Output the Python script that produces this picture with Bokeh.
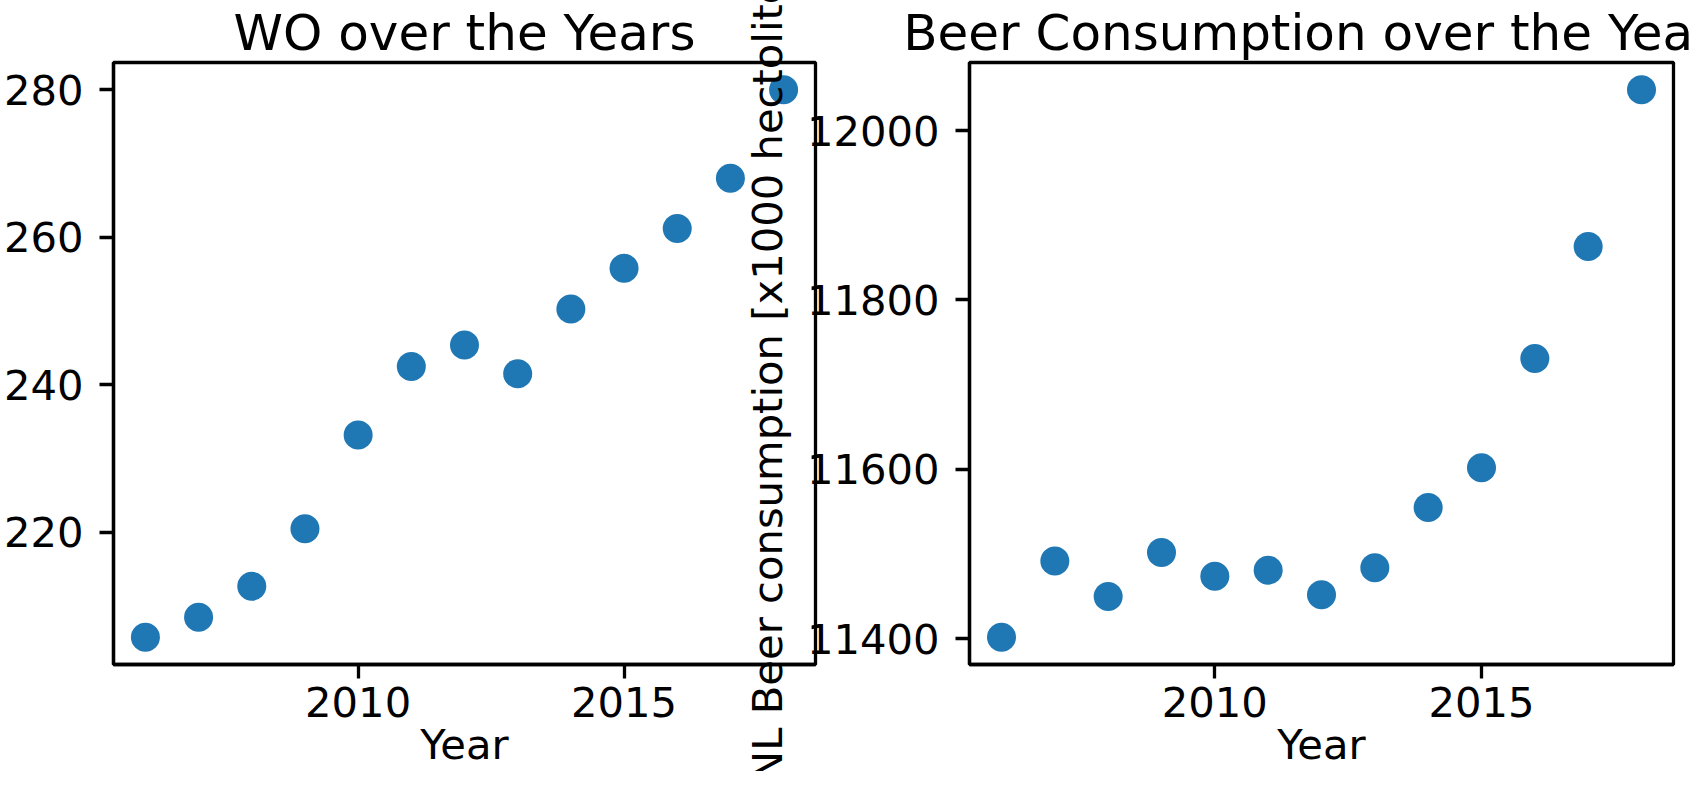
from typing import List, Optional, Tuple

from bokeh.embed import file_html
from bokeh.layouts import row
from bokeh.models import ColumnDataSource, Range1d, SingleIntervalTicker
from bokeh.plotting import figure
from bokeh.resources import INLINE

# data
YEARS = [2006, 2007, 2008, 2009, 2010, 2011, 2012, 2013, 2014, 2015, 2016, 2017, 2018]
WO = [205.8, 208.5, 212.7, 220.5, 233.2, 242.5, 245.4, 241.5, 250.3, 255.8, 261.2, 268.0, 280.0]
BEER = [11402, 11492, 11450, 11502, 11474, 11481, 11452, 11484, 11555, 11602, 11731, 11863, 12048]

WO_TITLE = "WO over the Years"
BEER_TITLE = "Beer Consumption over the Years"
X_LABEL = "Year"
BEER_LABEL = "NL Beer consumption [x1000 hectoliter]"

FONT = "DejaVu Sans"
BLUE = "#1f77b4"
TICK_FONT = "41.7px"
TITLE_FONT = "50px"
HEIGHT = 771


def padded(values: List[float], frac: float = 0.05) -> Range1d:
    """matplotlib style: 5% margin on each side of the data"""
    lo, hi = min(values), max(values)
    pad = (hi - lo) * frac
    return Range1d(lo - pad, hi + pad)


def make_panel(
    title: str,
    y_vals: List[float],
    y_step: int,
    y_label: Optional[str],
    width: int,
    left: int,
    right: int,
    margin: Optional[Tuple[int, int, int, int]] = None,
):
    p = figure(
        title=title,
        width=width,
        height=HEIGHT,
        x_range=padded(YEARS),
        y_range=padded(y_vals),
        output_backend="svg",
        toolbar_location=None,
        min_border_left=left,
        min_border_right=right,
        min_border_top=0,
        min_border_bottom=0,
    )
    if margin is not None:
        p.margin = margin
        p.border_fill_color = None  # let the left panel show through

    p.title.text_font = FONT
    p.title.text_font_size = TITLE_FONT
    p.title.text_font_style = "normal"
    p.title.text_color = "black"
    p.title.text_line_height = 0.8
    p.title.align = "center"
    p.title.standoff = 2

    p.grid.visible = False
    p.outline_line_color = "black"
    p.outline_line_width = 3.3
    p.outline_line_alpha = 1.0

    p.xaxis.ticker = SingleIntervalTicker(interval=5, num_minor_ticks=0)
    p.yaxis.ticker = SingleIntervalTicker(interval=y_step, num_minor_ticks=0)
    p.xaxis.axis_label = X_LABEL
    if y_label:
        p.yaxis.axis_label = y_label

    for ax in p.axis:
        ax.major_label_text_font = FONT
        ax.major_label_text_font_size = TICK_FONT
        ax.major_label_text_color = "black"
        ax.axis_label_text_font = FONT
        ax.axis_label_text_font_size = TICK_FONT
        ax.axis_label_text_font_style = "normal"
        ax.axis_label_text_color = "black"
        ax.major_tick_out = 14
        ax.major_tick_in = 0
        ax.minor_tick_out = 0
        ax.minor_tick_in = 0
        ax.major_tick_line_width = 3.3
        ax.axis_line_width = 3.3
    p.xaxis.major_label_standoff = 8
    p.xaxis.axis_label_standoff = 0
    p.xaxis.axis_label_text_line_height = 0.6
    p.yaxis.major_label_standoff = 16
    p.yaxis.axis_label_standoff = 12

    source = ColumnDataSource(data=dict(x=YEARS, y=y_vals))
    p.scatter("x", "y", source=source, size=29, fill_color=BLUE, line_color=None)
    return p


if __name__ == "__main__":
    left_panel = make_panel(WO_TITLE, WO, 20, None, width=825, left=112, right=10)
    right_panel = make_panel(
        BEER_TITLE, BEER, 200, BEER_LABEL, width=953, left=230, right=19,
        margin=(0, 0, 0, -86),
    )
    layout = row(left_panel, right_panel)
    open("out.html", "w").write(file_html(layout, INLINE))
